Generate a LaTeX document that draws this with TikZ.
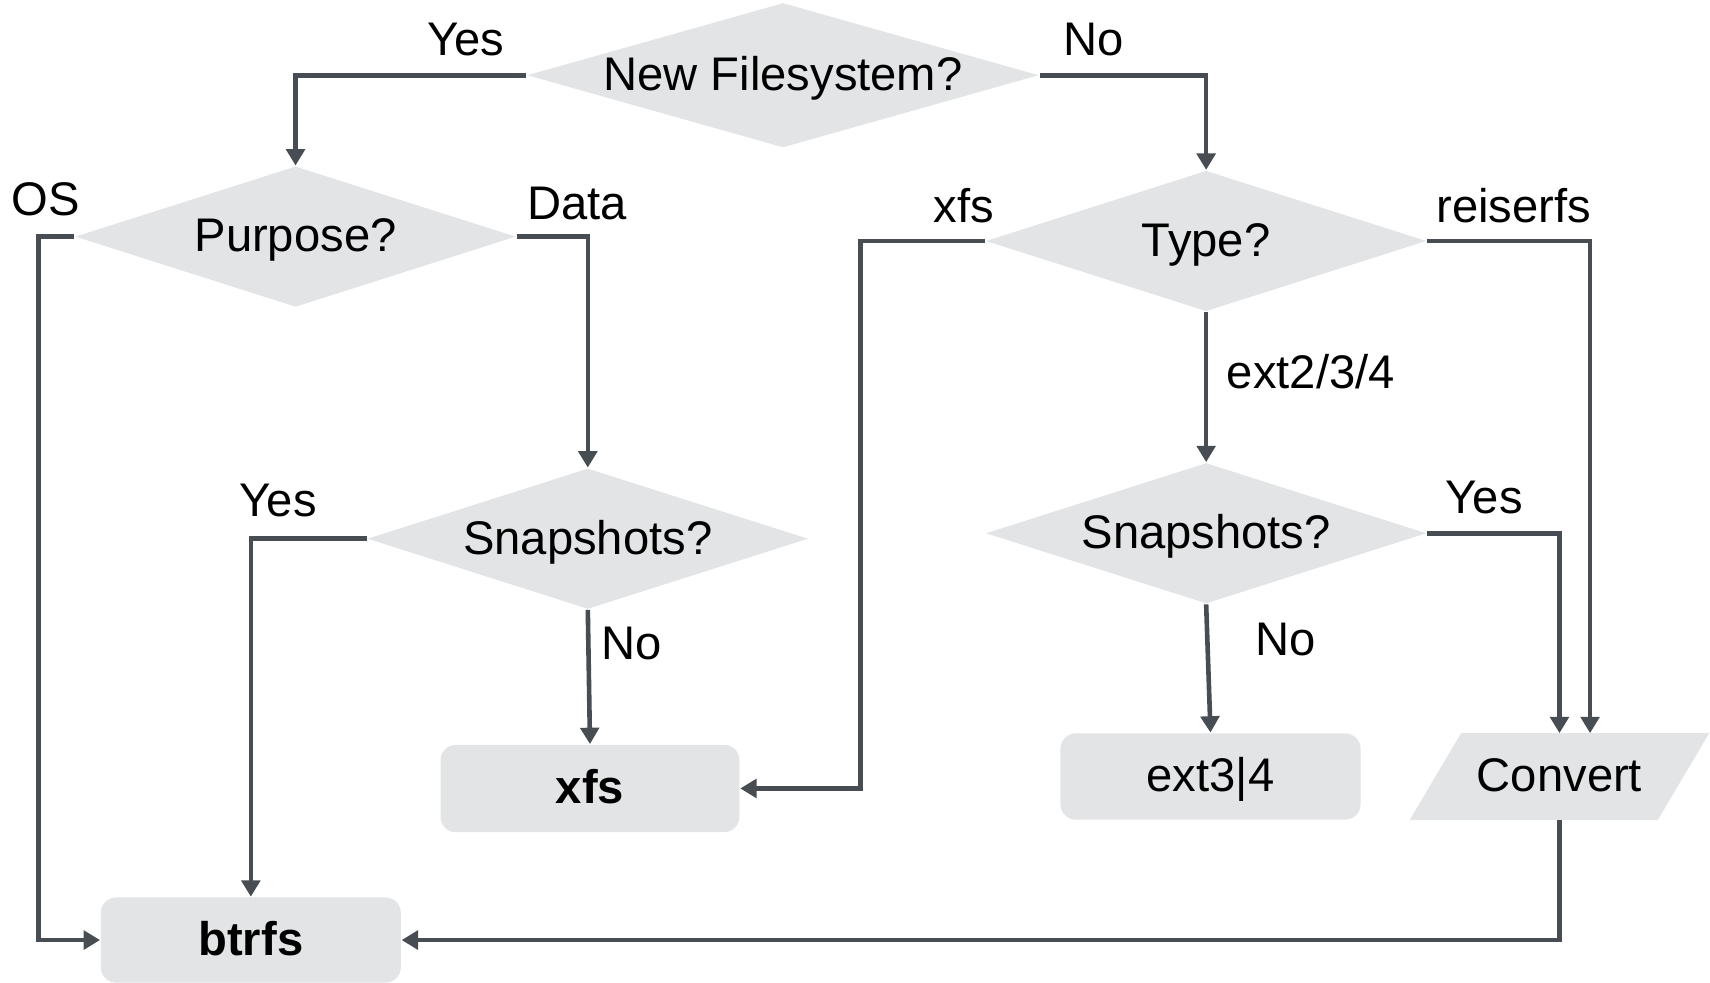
\documentclass[tikz,border=0pt]{standalone}
\usepackage{fontspec}
\setmainfont{Liberation Sans}
\usetikzlibrary{shapes.geometric,arrows.meta,backgrounds}
\definecolor{boxgray}{HTML}{E3E4E6}
\definecolor{linegray}{HTML}{474D53}
\newcommand{\txtsize}{\fontsize{12.3}{14.8}\selectfont}
\newcommand{\slant}{0.235cm}

\begin{document}
\begin{tikzpicture}[x=0.01cm, y=-0.01cm,
    every node/.style={font=\txtsize, text height=0.8em, text depth=0pt, inner sep=0pt},
    decision/.style={diamond, aspect=3.15, fill=boxgray, minimum width=4.04cm, minimum height=1.29cm},
    term/.style={rectangle, rounded corners=0.14cm, fill=boxgray, minimum width=2.75cm, minimum height=0.79cm},
    io/.style={rectangle, minimum width=2.26cm, minimum height=0.78cm},
    flow/.style={draw=linegray, line width=1.2pt, -{Triangle[length=0.15cm, width=0.17cm]}}]
    \useasboundingbox (0,0) rectangle (1568,901);

    % Questions
    \node[decision, minimum width=4.69cm, minimum height=1.28cm] (new) at (718,69) {New Filesystem?};
    \node[decision] (purpose) at (271,217) {Purpose?};
    \node[decision] (type) at (1106,221) {Type?};
    \node[decision] (snapL) at (539,494) {Snapshots?};
    \node[decision] (snapR) at (1106,489) {Snapshots?};

    % Results
    \node[term, font=\txtsize\bfseries, minimum width=2.74cm, minimum height=0.80cm] (xfs) at (541,723) {xfs};
    \node[term, font=\txtsize\bfseries, minimum height=0.78cm] (btrfs) at (230,862) {btrfs};
    \node[term] (ext) at (1110,712) {ext3|4};
    \node[io] (convert) at (1430,712) {Convert};
    \begin{scope}[on background layer]
        \fill[boxgray] ([xshift=-\slant]convert.south west) -- ([xshift=\slant]convert.north west)
            -- ([xshift=\slant]convert.north east) -- ([xshift=-\slant]convert.south east) -- cycle;
    \end{scope}

    % Answers
    \node (yesNew) at (427,37) {Yes};
    \node (noNew) at (1003,37) {No};
    \node (os) at (42,184) {OS};
    \node (data) at (529,187) {Data};
    \node (yesL) at (255,460) {Yes};
    \node (noL) at (579,591) {No};
    \node (xfsType) at (884,190) {xfs};
    \node (reiser) at (1388,190) {reiserfs};
    \node (extType) at (1202,342) {ext2/3/4};
    \node (yesR) at (1361,457) {Yes};
    \node (noR) at (1179,587) {No};

    % Arrows
    \draw[flow] (new.west) -| (purpose.north);
    \draw[flow] (new.east) -| (type.north);
    \draw[flow] (purpose.west) -- ++(-33,0) |- (btrfs.west);
    \draw[flow] (purpose.east) -| (snapL.north);
    \draw[flow] (snapL.west) -| (btrfs.north);
    \draw[flow] (snapL.south) -- (xfs.north);
    \draw[flow] (type.west) -- ++(-114,0) |- (xfs.east);
    \draw[flow] (type.east) -| ([xshift=0.28cm]convert.north);
    \draw[flow] (type.south) -- (snapR.north);
    \draw[flow] (snapR.east) -| (convert.north);
    \draw[flow] (snapR.south) -- (ext.north);
    \draw[flow] (convert.south) |- (btrfs.east);
\end{tikzpicture}
\end{document}
